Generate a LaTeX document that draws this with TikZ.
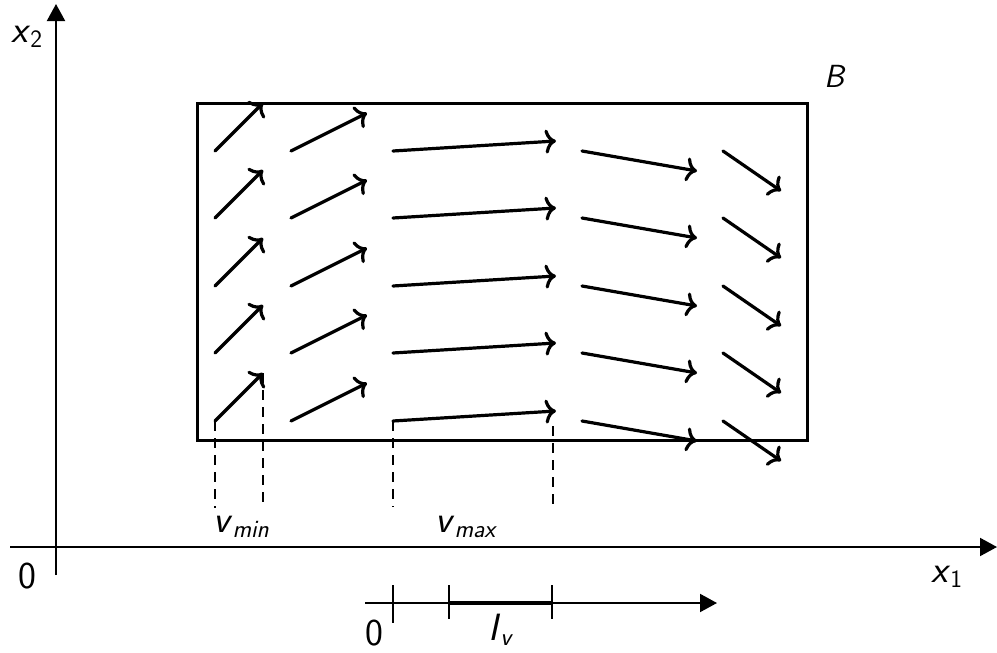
\documentclass[tikz,border=0pt]{standalone}
\usetikzlibrary{arrows.meta}
\newcommand{\lbl}[2]{\textit{#1}\raisebox{-5pt}{\fontsize{25}{27}\selectfont #2}}
\tikzset{
  axis/.style={line width=2pt,-{Triangle[length=17pt,width=18pt]}},
  vec/.style={line width=3.2pt,line cap=round,-{To[length=11pt,width=24pt,line width=3.2pt]}},
  guide/.style={line width=2.8pt,dash pattern=on 10pt off 7pt},
  lab/.style={inner sep=0pt,font=\sffamily\fontsize{38}{42}\selectfont},
}
\begin{document}
\begin{tikzpicture}[x=1pt,y=-1pt]
\useasboundingbox (0,0) rectangle (997,653);
% axes
\coordinate (xs) at (10,547);
\coordinate (xe) at (997,547);
\coordinate (ys) at (56,575);
\coordinate (ye) at (56,4);
\draw[axis] (xs) -- (xe);
\draw[axis] (ys) -- (ye);
% box B
\draw[line width=3pt] (197,103) rectangle (807,440);
% vector field
\foreach \r/\y in {1/151,2/218,3/286,4/353,5/421}{
  \foreach \c/\sx/\dx/\dy in {1/215/48/-48,2/291/76/-38,3/393/163/-10,4/582/115/20,5/723/58/40}{
    \coordinate (s\c\r) at (\sx,\y);
    \coordinate (e\c\r) at ({\sx+\dx},{\y+\dy});
    \draw[vec] (s\c\r) -- (e\c\r);
  }
}
% dashed guides
\coordinate (g1) at (215,508);
\coordinate (g2) at (263,505);
\coordinate (g3) at (393,507);
\coordinate (g4a) at (553,426);
\coordinate (g4) at (553,505);
\draw[guide] (s15) -- (g1);
\draw[guide] (e15) -- (g2);
\draw[guide] (s35) -- (g3);
\draw[guide] (g4a) -- (g4);
% labels
\node[lab,anchor=base west] (lx2) at (11,42) {\lbl{x}{2}};
\node[lab,anchor=base west] (lx1) at (931,582) {\lbl{x}{1}};
\node[lab,anchor=base] (l0) at (27,588) {0};
\node[lab,anchor=base west,font=\sffamily\itshape\fontsize{32}{36}\selectfont] (lB) at (824,87) {B};
\node[lab,anchor=base west] (lvmin) at (213,532) {\lbl{v}{\textit{min}}};
\node[lab,anchor=base west] (lvmax) at (435,532) {\lbl{v}{\textit{max}}};
% interval line
\coordinate (ls) at (365,603);
\coordinate (le) at (717,603);
\coordinate (t0) at (393,603);
\coordinate (t1) at (449,603);
\coordinate (t2) at (552,603);
\draw[axis] (ls) -- (le);
\draw[line width=4pt] (t1) -- (t2);
\draw[line width=2pt] (393,585) -- (393,623);
\draw[line width=2pt] (449,585) -- (449,619);
\draw[line width=2pt] (552,585) -- (552,619);
\node[lab,anchor=base] (n0) at (374,645) {0};
\node[lab,anchor=base west] (lIv) at (488,640) {\lbl{I}{\textit{v}}};
\end{tikzpicture}
\end{document}
